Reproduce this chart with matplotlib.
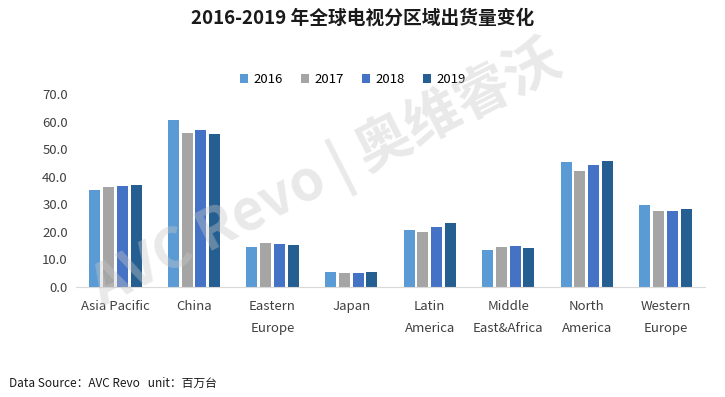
import numpy as np
import matplotlib.pyplot as plt

plt.rcParams['font.family'] = ['Noto Sans CJK SC', 'DejaVu Sans']

regions = ['Asia Pacific', 'China', 'Eastern\nEurope', 'Japan', 'Latin\nAmerica',
           'Middle\nEast&Africa', 'North\nAmerica', 'Western\nEurope']
years = ['2016', '2017', '2018', '2019']
v2016 = [35.1, 60.5, 14.6, 5.4, 20.7, 13.4, 45.4, 29.6]
v2017 = [36.2, 55.9, 15.8, 5.2, 19.9, 14.6, 42.2, 27.7]
v2018 = [36.5, 57.1, 15.6, 5.2, 21.9, 14.9, 44.2, 27.5]
v2019 = [36.9, 55.4, 15.1, 5.4, 23.1, 14.1, 45.7, 28.2]
colors = ['#5B9BD5', '#A5A5A5', '#4472C4', '#255E91']

fig = plt.figure(figsize=(7.25, 3.97), dpi=100)
ax = fig.add_axes([0.105, 0.277, 0.867, 0.486])

x = np.arange(len(regions))
w = 0.14
gap = 0.175
for i, (vals, c, yr) in enumerate(zip([v2016, v2017, v2018, v2019], colors, years)):
    ax.bar(x + (i - 1.5) * gap, vals, width=w, color=c, label=yr)

ax.set_xlim(-0.5, len(regions) - 0.5)
ax.set_ylim(0, 70)
ax.set_yticks(np.arange(0, 71, 10))
ax.set_yticklabels([f'{t:.1f}' for t in np.arange(0, 71, 10)], fontsize=9.5, color='#404040')
ax.set_xticks(x)
ax.set_xticklabels(regions, fontsize=9.5, color='#404040', linespacing=1.9)
ax.tick_params(axis='x', length=0, pad=9)
ax.tick_params(axis='y', length=0, pad=6)
for s in ['top', 'right', 'left']:
    ax.spines[s].set_visible(False)
ax.spines['bottom'].set_color('#D9D9D9')

ax.legend(loc='lower center', bbox_to_anchor=(0.44, 0.98), ncol=4, frameon=False,
          fontsize=9.5, handlelength=0.6, handleheight=0.6, handletextpad=0.4, columnspacing=1.4)

fig.text(0.5, 0.955, '2016-2019 年全球电视分区域出货量变化', ha='center', va='center',
         fontsize=13.5, fontweight='bold', color='#1a1a1a')
fig.text(0.012, 0.035, 'Data Source：AVC Revo   unit：百万台', ha='left', va='center',
         fontsize=8.5, color='#1a1a1a')

# watermark
fig.text(0.45, 0.56, 'AVC Revo | 奥维睿沃', ha='center', va='center', rotation=27,
         fontsize=40, fontweight='bold', color='#C8C8C8', alpha=0.4, zorder=0)

fig.savefig('out.png', dpi=100)
